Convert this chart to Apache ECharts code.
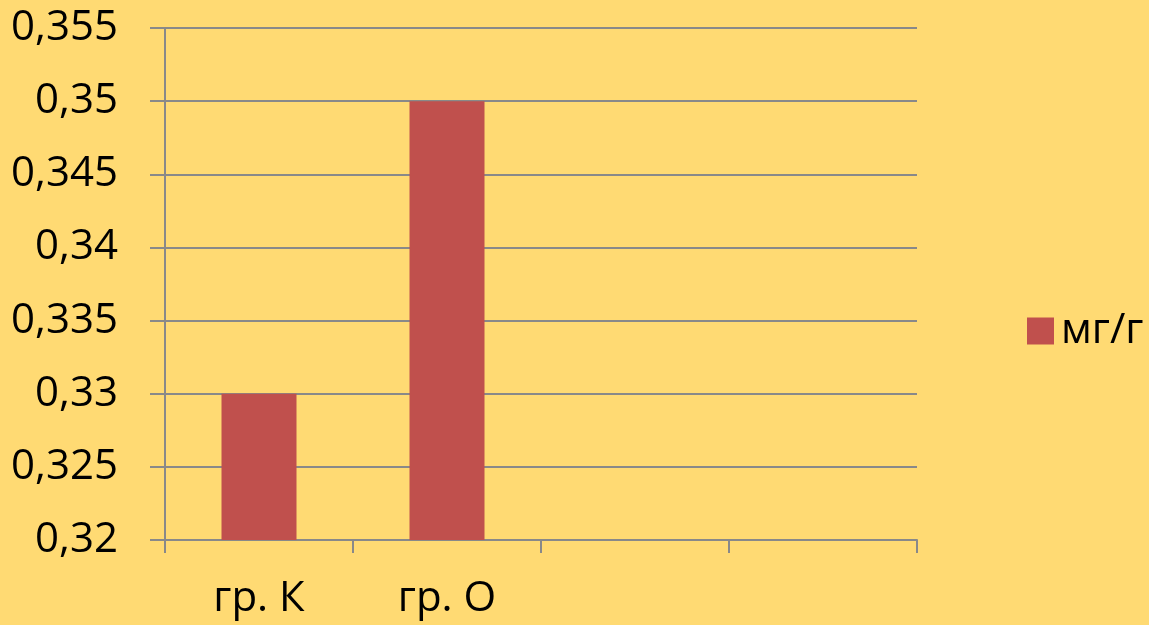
<!DOCTYPE html>
<html>
<head>
<meta charset="utf-8">
<script src="https://cdn.jsdelivr.net/npm/echarts@6/dist/echarts.min.js"></script>
<style>
  html, body { margin: 0; padding: 0; background: #FFDA73; }
  #chart { width: 1149px; height: 625px; }
</style>
</head>
<body>
<div id="chart"></div>
<script>
// Groups on the category axis (the last two slots are empty)
const categories = ['гр. К', 'гр. О', '', ''];
// Measured values, mg/g
const seriesName = 'мг/г';
const values = [0.33, 0.35, null, null];
// Value axis range
const yMin = 0.32;
const yMax = 0.355;
const yStep = 0.005;

const gray = '#898989';
const font = '"Open Sans", "Noto Sans", sans-serif';

const chart = echarts.init(document.getElementById('chart'));
chart.setOption({
  backgroundColor: '#FFDA73',
  animation: false,
  grid: { left: 165, right: 232, top: 28, bottom: 85, containLabel: false },
  legend: {
    data: [seriesName],
    orient: 'vertical',
    left: 1022,
    top: 305,
    itemWidth: 27,
    itemHeight: 27,
    itemGap: 10,
    icon: 'rect',
    textStyle: { fontFamily: font, fontSize: 42, color: '#000', padding: [0, 0, 0, 2] }
  },
  xAxis: {
    type: 'category',
    data: categories,
    axisLine: { lineStyle: { color: gray, width: 2 } },
    axisTick: { show: true, length: 13, lineStyle: { color: gray, width: 2 }, alignWithLabel: false },
    axisLabel: { fontFamily: font, fontSize: 42, color: '#000', margin: 38, interval: 0 },
    splitLine: { show: false }
  },
  yAxis: {
    type: 'value',
    min: yMin,
    max: yMax,
    interval: yStep,
    axisLine: { show: true, lineStyle: { color: gray, width: 2 } },
    axisTick: { show: true, length: 15, lineStyle: { color: gray, width: 2 } },
    axisLabel: {
      fontFamily: font, fontSize: 42, color: '#000', margin: 47,
      formatter: v => v.toFixed(3).replace(/0+$/, '').replace(/\.$/, '').replace('.', ',')
    },
    splitLine: { show: true, lineStyle: { color: gray, width: 2 } }
  },
  series: [{
    name: seriesName,
    type: 'bar',
    data: values,
    barWidth: 75,
    itemStyle: { color: '#C0504D' }
  }]
});
</script>
</body>
</html>
